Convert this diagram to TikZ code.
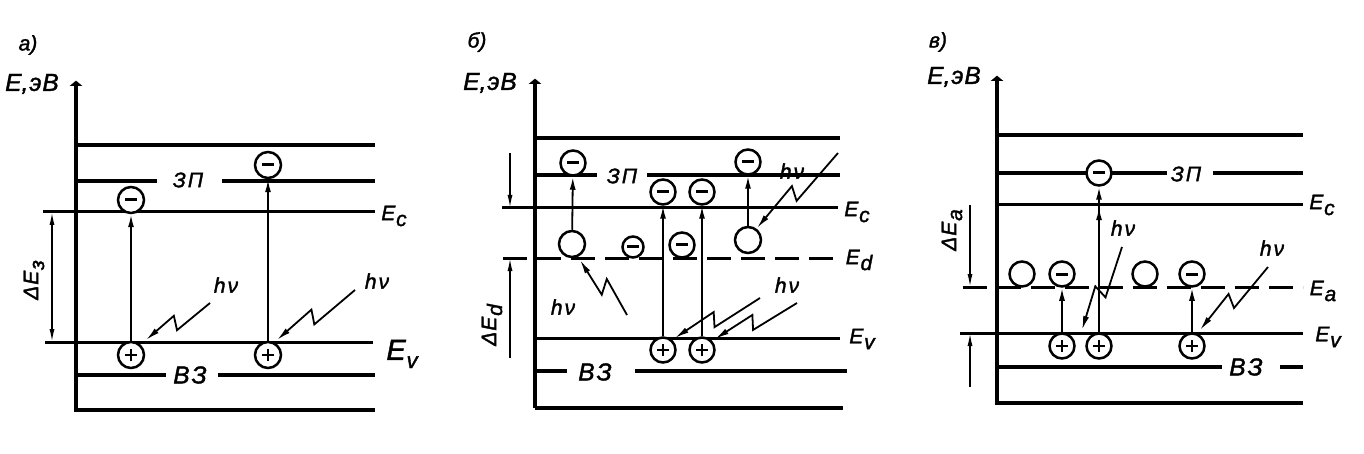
\documentclass[tikz,border=0pt]{standalone}
\usepackage{fontspec}
\setmainfont{Liberation Sans}
\newfontfamily\lblfont{Liberation Sans}[FakeBold=1.6]
\usetikzlibrary{arrows.meta,calc,decorations.markings}
\newcommand\lowsub[1]{\kern0.8pt\raisebox{-0.28em}{#1}}
\tikzset{
  band/.style={line width=4pt},
  lev/.style={line width=3pt},
  dlev/.style={line width=3pt, dash pattern=on 24pt off 10pt},
  axisln/.style={line width=4.3pt, -{Latex[length=20pt,width=7pt]}},
  trans/.style={line width=1.8pt, -{Latex[length=13pt,width=6pt]}},
  dimln/.style={line width=1.5pt, -{Latex[length=13pt,width=5pt]}},
  dimboth/.style={line width=1.5pt, {Latex[length=13pt,width=5pt]}-{Latex[length=13pt,width=5pt]}},
  flashln/.style={line width=1.8pt, -{Latex[length=14pt,width=6pt]}},
  flashP/.style={to path={-- ($(\tikztostart)!0.57!(\tikztotarget)!7pt!90:(\tikztotarget)$) -- ($(\tikztostart)!0.51!(\tikztotarget)!7pt!-90:(\tikztotarget)$) -- (\tikztotarget)}},
  flashM/.style={to path={-- ($(\tikztostart)!0.56!(\tikztotarget)!8pt!-90:(\tikztotarget)$) -- ($(\tikztostart)!0.44!(\tikztotarget)!6pt!90:(\tikztotarget)$) -- (\tikztotarget)}},
  carrier/.style={circle, draw, line width=2.5pt, minimum size=#1, inner sep=0pt, fill=white},
  carrier/.default=25pt,
  el/.style={carrier=#1, path picture={\draw[line width=3pt] ([xshift=-6pt]path picture bounding box.center) -- ([xshift=6pt]path picture bounding box.center);}},
  el/.default=25pt,
  ho/.style={carrier=#1, path picture={\draw[line width=2.8pt] ([xshift=-6pt]path picture bounding box.center) -- ([xshift=6pt]path picture bounding box.center) ([yshift=-6pt]path picture bounding box.center) -- ([yshift=6pt]path picture bounding box.center);}},
  ho/.default=25pt,
  vac/.style={carrier=#1},
  vac/.default=25pt,
  txt/.style={font=\lblfont\fontsize{21}{21}\selectfont\itshape, inner sep=0pt},
  big/.style={font=\lblfont\fontsize{24.5}{24.5}\selectfont\itshape, inner sep=0pt},
  huge/.style={font=\lblfont\fontsize{29}{29}\selectfont\itshape, inner sep=0pt},
}
\newcommand\hnu{h\kern2ptν}
\newcommand\eVlbl{E,\kern1ptэ\kern1ptВ}
\newcommand\zp{З\kern2ptП}
\newcommand\vz{В\kern2ptЗ}
\begin{document}
\begin{tikzpicture}[x=1pt,y=-1pt]
\useasboundingbox[fill=white] (0,0) rectangle (1364,454);

% ================= panel a =================
\draw[axisln] (76,412) -- (76,66);
\draw[band] (76,145) -- (375,145);
\draw[band] (76,181) -- (157,181) (222,181) -- (375,181);
\draw[lev] (43,212) -- (375,212);
\draw[lev] (45,342) -- (373,342);
\draw[band] (76,375) -- (166,375) (218,375) -- (375,375);
\draw[band] (76,410) -- (375,410);
\coordinate (dA1) at (52,212);
\coordinate (dA2) at (52,342);
\draw[dimboth] (dA1) -- (dA2);

\node[el=26pt] (ea1) at (131,200) {};
\node[el=26pt] (ea2) at (268,165) {};
\node[ho=26pt] (ha1) at (131,355) {};
\node[ho=26pt] (ha2) at (268,355) {};
\draw[trans] (ha1) -- (ea1);
\draw[trans] (ha2) -- (ea2);
\coordinate (fa1s) at (210,303);
\coordinate (fa1t) at (146,340);
\coordinate (fa2s) at (355,290);
\coordinate (fa2t) at (277,340);
\draw[flashln] (fa1s) to[flashP] (fa1t);
\draw[flashln] (fa2s) to[flashP] (fa2t);

\node[txt] (la) at (28,45) {а)};
\node[big] (Ena) at (32,84) {\eVlbl};
\node[txt] (zpa) at (188,180) {\zp};
\node[txt] (eca) at (394,216) {E\lowsub{c}};
\node[txt] (hva1) at (226,285) {\hnu};
\node[txt] (hva2) at (377,281) {\hnu};
\node[huge] (eva) at (402,354) {E\lowsub{\fontsize{22}{22}\selectfont v}};
\node[big] (vza) at (190,375) {\vz};
\node[txt, rotate=90] (dea) at (34,280) {Δ\kern1ptE\lowsub{з}};

% ================= panel b =================
\draw[axisln] (535,408) -- (535,64);
\draw[band] (535,138) -- (840,138);
\draw[band] (535,175) -- (597,175) (647,175) -- (840,175);
\draw[lev] (502,208) -- (838,208);
\draw[dlev] (503,258) -- (840,258);
\draw[lev] (535,338) -- (840,338);
\draw[band] (535,371) -- (567,371) (635,371) -- (847,371);
\draw[band] (535,408) -- (843,408);
\coordinate (dB1) at (510,153);
\coordinate (dB2) at (510,208);
\coordinate (dB3) at (510,358);
\coordinate (dB4) at (510,258);
\draw[dimln] (dB1) -- (dB2);
\draw[dimln] (dB3) -- (dB4);

\node[el] (eb1) at (573,163) {};
\node[vac=26pt] (vb1) at (572,244) {};
\node[el=21pt] (eb2) at (633,247) {};
\node[el] (eb3) at (682,245) {};
\node[el] (eb4) at (663,192) {};
\node[el] (eb5) at (702,192) {};
\node[el] (eb6) at (748,162) {};
\node[vac=26pt] (vb2) at (748,240) {};
\node[ho] (hb1) at (663,350) {};
\node[ho] (hb2) at (702,350) {};
\draw[trans] (vb1) -- (eb1);
\draw[trans] (hb1) -- (eb4);
\draw[trans] (hb2) -- (eb5);
\draw[trans] (vb2) -- (eb6);
\coordinate (fb1s) at (627,315);
\coordinate (fb1t) at (580,260);
\coordinate (fb2s) at (838,153);
\coordinate (fb2t) at (757,228);
\coordinate (fb3s) at (760,298);
\coordinate (fb3t) at (675,338);
\coordinate (fb4s) at (797,303);
\coordinate (fb4t) at (715,339);
\draw[flashln] (fb1s) to[flashM] (fb1t);
\draw[flashln] (fb2s) to[flashP] (fb2t);
\draw[flashln] (fb3s) to[flashP] (fb3t);
\draw[flashln] (fb4s) to[flashP] (fb4t);

\node[txt] (lb) at (477,42) {б)};
\node[big] (Enb) at (490,83) {\eVlbl};
\node[txt] (zpb) at (622,176) {\zp};
\node[txt] (hvb1) at (792,171) {\hnu};
\node[txt] (ecb) at (857,212) {E\lowsub{c}};
\node[txt] (edb) at (859,260) {E\lowsub{d}};
\node[txt] (hvb2) at (563,307) {\hnu};
\node[txt] (hvb3) at (787,285) {\hnu};
\node[txt] (evb) at (862,339) {E\lowsub{v}};
\node[big] (vzb) at (595,372) {\vz};
\node[txt, rotate=90] (deb) at (492,325) {Δ\kern1ptE\lowsub{d}};

% ================= panel c =================
\draw[axisln] (997,405) -- (997,61);
\draw[band] (997,135) -- (1303,135);
\draw[band] (997,173) -- (1167,173) (1213,173) -- (1303,173);
\draw[lev] (997,205) -- (1303,205);
\draw[dlev] (963,287) -- (1303,287);
\draw[lev] (960,333) -- (1303,333);
\draw[band] (997,367) -- (1222,367) (1280,367) -- (1303,367);
\draw[band] (997,403) -- (1303,403);
\coordinate (dC1) at (970,205);
\coordinate (dC2) at (970,287);
\coordinate (dC3) at (970,387);
\coordinate (dC4) at (970,333);
\draw[dimln] (dC1) -- (dC2);
\draw[dimln] (dC3) -- (dC4);

\node[vac] (vc1) at (1022,274) {};
\node[el] (ec1) at (1062,274) {};
\node[ho] (hc1) at (1062,346) {};
\node[ho] (hc2) at (1099,346) {};
\node[el] (ec2) at (1099,173) {};
\node[vac] (vc2) at (1145,274) {};
\node[el] (ec3) at (1192,274) {};
\node[ho] (hc3) at (1192,346) {};
\draw[trans] (hc1) -- (ec1);
\draw[trans, postaction={decorate}, decoration={markings, mark=at position 0.86 with {\arrow{Latex[length=13pt,width=6pt]}}}] (hc2) -- (ec2);
\draw[trans] (hc3) -- (ec3);
\coordinate (fc1s) at (1122,247);
\coordinate (fc1t) at (1082,330);
\coordinate (fc2s) at (1268,267);
\coordinate (fc2t) at (1200,330);
\draw[flashln] (fc1s) to[flashP] (fc1t);
\draw[flashln] (fc2s) to[flashP] (fc2t);

\node[txt] (lc) at (938,42) {в)};
\node[big] (Enc) at (954,77) {\eVlbl};
\node[txt] (zpc) at (1186,174) {\zp};
\node[txt] (ecc) at (1322,205) {E\lowsub{c}};
\node[txt] (hvc1) at (1123,228) {\hnu};
\node[txt, rotate=90] (dec) at (952,230) {Δ\kern1ptE\lowsub{a}};
\node[txt] (eac) at (1323,291) {E\lowsub{a}};
\node[txt] (hvc2) at (1272,248) {\hnu};
\node[txt] (evc) at (1328,337) {E\lowsub{v}};
\node[big] (vzc) at (1246,367) {\vz};
\end{tikzpicture}
\end{document}
